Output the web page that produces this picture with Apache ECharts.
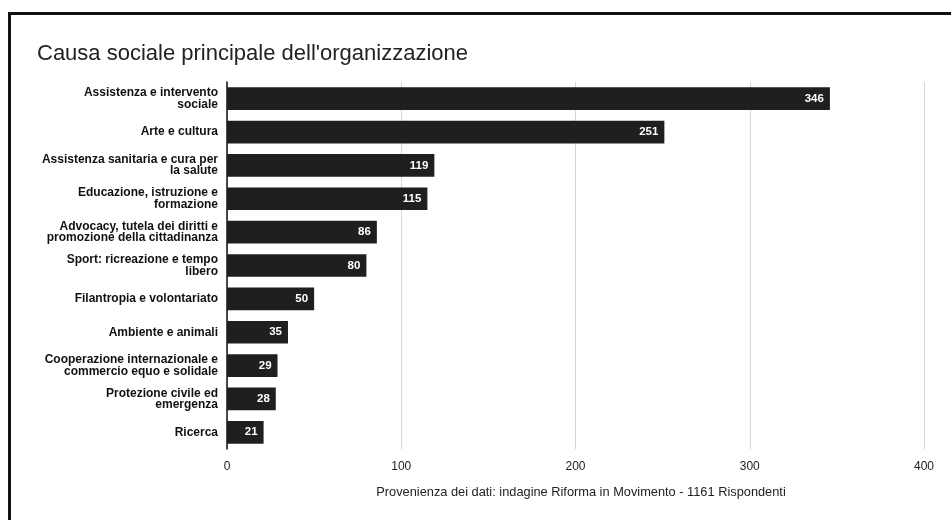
<!DOCTYPE html>
<html>
<head>
<meta charset="utf-8">
<script src="https://cdn.jsdelivr.net/npm/echarts@6/dist/echarts.min.js"></script>
<style>
  html, body { margin: 0; padding: 0; background: #fff; }
  #frame {
    position: absolute; left: 8px; top: 12px; width: 943px; height: 508px;
    border-left: 3px solid #111; border-top: 3px solid #111; box-sizing: border-box;
  }
  #chart { position: absolute; left: 0; top: 0; width: 951px; height: 520px; }
</style>
</head>
<body>
<div id="frame"></div>
<div id="chart"></div>
<script>
// Cause sociali (dall'alto in basso) e numero di organizzazioni
const categories = [
  'Assistenza e intervento\nsociale',
  'Arte e cultura',
  'Assistenza sanitaria e cura per\nla salute',
  'Educazione, istruzione e\nformazione',
  'Advocacy, tutela dei diritti e\npromozione della cittadinanza',
  'Sport: ricreazione e tempo\nlibero',
  'Filantropia e volontariato',
  'Ambiente e animali',
  'Cooperazione internazionale e\ncommercio equo e solidale',
  'Protezione civile ed\nemergenza',
  'Ricerca'
];
const counts = [346, 251, 119, 115, 86, 80, 50, 35, 29, 28, 21];
const xTicks = [0, 100, 200, 300, 400];

const titleText = "Causa sociale principale dell'organizzazione";
const sourceText = 'Provenienza dei dati: indagine Riforma in Movimento - 1161 Rispondenti';

const FONT = 'Liberation Sans, Arial, sans-serif';

const chart = echarts.init(document.getElementById('chart'), null, { renderer: 'canvas' });
chart.setOption({
  animation: false,
  backgroundColor: 'transparent',
  textStyle: { fontFamily: FONT },
  title: [{
    text: titleText,
    left: 32, top: 38,
    textStyle: { fontSize: 22, fontWeight: 'normal', color: '#222', fontFamily: FONT }
  }, {
    text: sourceText,
    left: 576, top: 481, textAlign: 'center',
    textStyle: { fontSize: 12.8, fontWeight: 'normal', color: '#222', fontFamily: FONT }
  }],
  grid: { left: 227, right: 27, top: 82, bottom: 71, containLabel: false },
  xAxis: {
    type: 'value', min: xTicks[0], max: xTicks[xTicks.length - 1], interval: 100,
    axisLine: { show: false },
    axisTick: { show: false },
    axisLabel: { color: '#222', fontSize: 12, margin: 12 },
    splitLine: { show: true, lineStyle: { color: '#d6d6d6', width: 1 } }
  },
  yAxis: {
    type: 'category', inverse: true, data: categories,
    axisLine: { show: true, lineStyle: { color: '#111', width: 1.5 } },
    axisTick: { show: false },
    axisLabel: {
      color: '#111', fontSize: 12, fontWeight: 'bold', margin: 9,
      lineHeight: 11.5, align: 'right'
    }
  },
  series: [{
    type: 'bar',
    data: counts,
    barCategoryGap: '32%',
    itemStyle: { color: '#1f1f1f' },
    label: {
      show: true, position: 'insideRight', color: '#fff',
      fontSize: 11.5, fontWeight: 'bold', offset: [-1, 0]
    }
  }]
});
</script>
</body>
</html>
